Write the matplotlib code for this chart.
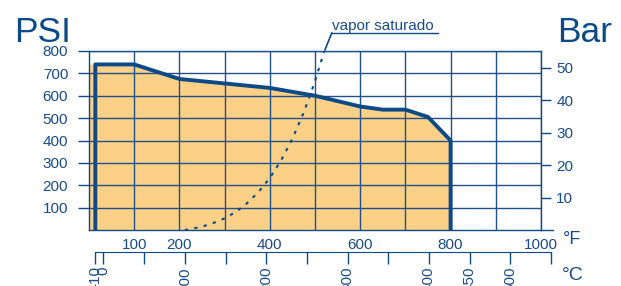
import matplotlib.pyplot as plt

plt.rcParams['font.family'] = ['Liberation Sans', 'DejaVu Sans']

# pressure-temperature rating envelope (degF, psi)
env_temp = [14, 14, 100, 200, 300, 400, 500, 600, 650, 700, 750, 800, 800]
env_psi = [0, 740, 740, 675, 655, 635, 600, 552, 538, 538, 505, 400, 0]

# saturated steam curve (degF, psig)
sat_temp = [212, 225, 250, 275, 300, 325, 350, 375, 400, 425, 450, 475, 490, 500, 510, 520]
sat_psi = [0, 4, 15, 31, 52, 81, 120, 170, 232, 311, 408, 525, 607, 666, 730, 797]

f_ticks = [100, 200, 300, 400, 500, 600, 700, 800, 900, 1000]
f_labels = ['100', '200', '', '400', '', '600', '', '800', '', '1000']
psi_ticks = [100, 200, 300, 400, 500, 600, 700, 800]
bar_ticks = [10, 20, 30, 40, 50]
c_ticks = [-10, 0, 50, 100, 150, 200, 250, 300, 350, 400, 450, 500, 550]
c_labels = ['-10', '0', '', '100', '', '200', '', '300', '', '400', '450', '500', '']

NAVY = '#0b4a86'
TXT = '#1a4c87'
GRID = '#1f5089'
FILL = '#fdd088'

W, H = 621, 286


def main():
    fig = plt.figure(figsize=(W / 100, H / 100), dpi=100)
    ax = fig.add_axes([89 / W, 56 / H, 452 / W, 179 / H])
    ax.set_xlim(0, 1000)
    ax.set_ylim(0, 800)

    fill_t = [0] + env_temp[1:]
    fill_p = [env_psi[1]] + env_psi[1:]
    ax.fill_between(fill_t, fill_p, 0, color=FILL, lw=0, zorder=1)
    ax.plot(env_temp, env_psi, color=NAVY, lw=2.8, zorder=4, solid_joinstyle='round')
    ax.plot(sat_temp, sat_psi, color=NAVY, lw=1.5, ls=(0, (1.6, 3.0)), zorder=4)

    ax.set_xticks(f_ticks)
    ax.set_xticklabels(f_labels)
    ax.set_yticks(psi_ticks)
    ax.grid(True, color=GRID, lw=1, zorder=2)
    ax.set_axisbelow(False)
    ax.tick_params(axis='x', length=0, pad=5.5, labelsize=11, labelcolor=TXT)
    ax.tick_params(axis='y', length=8, width=1, pad=7, color=NAVY, labelsize=11, labelcolor=TXT)
    for s in ax.spines.values():
        s.set_color(NAVY)
        s.set_linewidth(1)
    ax.plot([1000, 1026], [0, 0], color=NAVY, lw=1, clip_on=False)

    # label for saturated steam curve
    ax.plot([537, 772], [880, 880], color=NAVY, lw=1, clip_on=False)
    ax.plot([537, 522], [880, 805], color=NAVY, lw=1.2, clip_on=False)
    ax.text(537, 893, 'vapor saturado', fontsize=11, color=TXT, ha='left', va='baseline')

    ax2 = ax.twinx()
    ax2.set_ylim(0, 800 / 14.5038)
    ax2.set_yticks(bar_ticks)
    ax2.tick_params(axis='y', length=7, width=1, pad=4, color=NAVY, labelsize=11, labelcolor=TXT)
    for s in ax2.spines.values():
        s.set_visible(False)

    # celsius scale
    axc = fig.add_axes([89 / W, 34 / H, 0.452 * 1040 / W, 0.001])
    axc.set_xlim((0 - 32) / 1.8, (1040 - 32) / 1.8)
    axc.set_yticks([])
    for k in ['top', 'left', 'right']:
        axc.spines[k].set_visible(False)
    axc.spines['bottom'].set_color(NAVY)
    axc.spines['bottom'].set_bounds(-10, 550)
    axc.patch.set_visible(False)
    axc.set_xticks(c_ticks)
    axc.set_xticklabels(c_labels, rotation=90)
    axc.tick_params(axis='x', length=8.6, width=1, pad=1.5, color=NAVY, labelsize=11, labelcolor=TXT)

    fig.text(14 / W, 1 - 42 / H, 'PSI', fontsize=25.5, color=NAVY, va='baseline')
    fig.text(557 / W, 1 - 42 / H, 'Bar', fontsize=25.5, color=NAVY, va='baseline')
    fig.text(563 / W, 1 - 240 / H, '°F', fontsize=13, color=TXT, va='center')
    fig.text(562 / W, 1 - 275 / H, '°C', fontsize=14, color=TXT, va='center')

    fig.savefig('out.png', dpi=100)


if __name__ == '__main__':
    main()
